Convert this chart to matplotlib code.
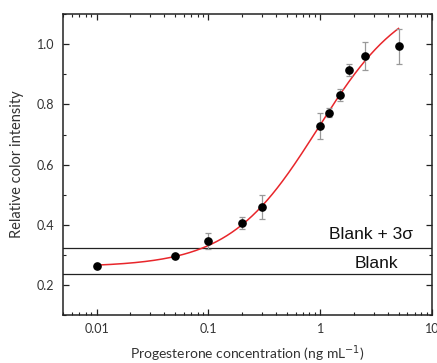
import numpy as np
import matplotlib
matplotlib.use('Agg')
import matplotlib.pyplot as plt
from matplotlib.ticker import FixedLocator, FixedFormatter, LogLocator, MultipleLocator, NullFormatter

# 数据
conc = [0.01, 0.05, 0.1, 0.2, 0.3, 1.0, 1.2, 1.5, 1.8, 2.5, 5.0]
intensity = [0.263, 0.297, 0.345, 0.406, 0.459, 0.728, 0.773, 0.830, 0.915, 0.961, 0.994]
err = [0.0, 0.0, 0.027, 0.020, 0.041, 0.042, 0.015, 0.020, 0.020, 0.048, 0.058]

# logistic fit parameters (A1, A2, x0, p)
fit_A1, fit_A2, fit_x0, fit_p = 0.26, 1.18, 0.95, 1.1
fit_range = [0.01, 5.0]

blank = 0.236
blank_3sigma = 0.322

x_ticks = [0.01, 0.1, 1, 10]
x_tick_labels = ['0.01', '0.1', '1', '10']
y_ticks = [0.2, 0.4, 0.6, 0.8, 1.0]
y_tick_labels = ['0.2', '0.4', '0.6', '0.8', '1.0']

plt.rcParams['font.family'] = ['Lato', 'DejaVu Sans']

fig = plt.figure(figsize=(4.37, 3.63), dpi=100)
ax = fig.add_axes([0.144, 0.132, 0.845, 0.829])

# 拟合曲线
xf = np.logspace(np.log10(fit_range[0]), np.log10(fit_range[1]), 300)
yf = fit_A2 + (fit_A1 - fit_A2) / (1 + (xf / fit_x0) ** fit_p)
ax.plot(xf, yf, color='#e8262b', lw=1.1, zorder=3)

# 空白线
ax.axhline(blank_3sigma, color='#222222', lw=0.9, zorder=2)
ax.axhline(blank, color='#222222', lw=0.9, zorder=2)

ax.errorbar(conc, intensity, yerr=err, fmt='o', color='black', ms=5.2,
            ecolor='#999999', elinewidth=0.9, capsize=2.5, capthick=0.9, zorder=4)

ax.set_xscale('log')
ax.set_xlim(0.005, 10)
ax.set_ylim(0.1, 1.1)

ax.xaxis.set_major_locator(FixedLocator(x_ticks))
ax.xaxis.set_major_formatter(FixedFormatter(x_tick_labels))
ax.xaxis.set_minor_locator(LogLocator(base=10, subs=np.arange(2, 10)))
ax.xaxis.set_minor_formatter(NullFormatter())
ax.yaxis.set_major_locator(FixedLocator(y_ticks))
ax.yaxis.set_major_formatter(FixedFormatter(y_tick_labels))
ax.yaxis.set_minor_locator(MultipleLocator(0.1))

ax.tick_params(which='both', direction='in', top=True, right=True,
               colors='#222222', labelcolor='#333333', labelsize=9)
ax.tick_params(which='major', length=4.5, width=0.9, pad=6)
ax.tick_params(which='minor', length=2.5, width=0.8)
for s in ax.spines.values():
    s.set_linewidth(1.1)
    s.set_color('#222222')

ax.text(2.82, 0.367, 'Blank + 3\u03c3', ha='center', va='center',
        fontsize=12.5, family=['Liberation Sans', 'DejaVu Sans'], color='#111111')
ax.text(3.16, 0.270, 'Blank', ha='center', va='center',
        fontsize=12.5, family=['Liberation Sans', 'DejaVu Sans'], color='#111111')

ax.set_xlabel('Progesterone concentration (ng mL$^{-1}$)', fontsize=10, color='#333333', labelpad=6)
ax.set_ylabel('Relative color intensity', fontsize=10.5, color='#333333', labelpad=9)

plt.savefig('out.png', dpi=100)
plt.close()
